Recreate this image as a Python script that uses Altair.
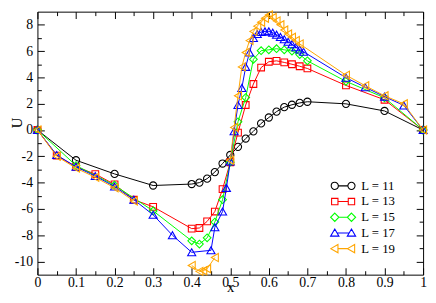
import altair as alt
import pandas as pd

# ---------------- data ----------------
labels = ["L = 11", "L = 13", "L = 15", "L = 17", "L = 19"]
colors = ["#000000", "#ff0000", "#00ff00", "#0000ff", "#ffa500"]
shapes = ["circle", "square", "diamond", "triangle-up", "triangle-left"]
marker_sizes = [54, 47, 62, 68, 68]

x11 = [0, 0.1, 0.2, 0.3, 0.4, 0.42, 0.44, 0.46, 0.48, 0.5, 0.52, 0.54, 0.56, 0.58,
       0.6, 0.62, 0.64, 0.66, 0.68, 0.7, 0.8, 0.9, 1.0]
u11 = [0, -2.3, -3.34, -4.22, -4.11, -4.0, -3.7, -3.2, -2.55, -1.9, -1.28, -0.65, -0.1,
       0.5, 0.95, 1.4, 1.74, 1.92, 2.06, 2.15, 1.99, 1.45, 0]
seg11 = [0] * 23

x13 = [0, 0.05, 0.1, 0.15, 0.2, 0.25, 0.3, 0.4, 0.42, 0.44, 0.46, 0.48, 0.5, 0.52, 0.54,
       0.56, 0.58, 0.6, 0.62, 0.64, 0.66, 0.68, 0.7, 0.8, 0.9, 1.0]
u13 = [0, -1.95, -2.8, -3.35, -4.14, -5.3, -5.84, -7.5, -7.45, -6.95, -6.2, -4.5, -2.45,
       -0.2, 1.9, 3.5, 4.75, 5.19, 5.26, 5.14, 5.0, 4.85, 4.68, 3.39, 2.3, 0]
seg13 = [0] * 26

x15 = [0, 0.1, 0.2, 0.3, 0.4, 0.42, 0.44, 0.46, 0.48, 0.5, 0.52, 0.54, 0.56, 0.58,
       0.6, 0.62, 0.64, 0.66, 0.68, 0.7, 0.8, 0.9, 1.0]
u15 = [0, -2.7, -4.2, -6.15, -8.43, -8.67, -8.2, -7.0, -5.3, -2.45, 0.62, 2.47, 5.38,
       6.03, 6.1, 6.18, 6.1, 6.0, 5.74, 5.26, 3.7, 2.45, 0]
seg15 = [0] * 23

x17 = [0, 0.05, 0.1, 0.15, 0.2, 0.25, 0.3, 0.35, 0.4, 0.45, 0.46, 0.48, 0.49, 0.5,
       0.51, 0.52, 0.53, 0.54, 0.55, 0.56, 0.57, 0.58, 0.59, 0.6, 0.61, 0.62, 0.63,
       0.64, 0.65, 0.66, 0.67, 0.68, 0.69, 0.8, 0.85, 0.9, 0.95, 1.0]
u17 = [0, -1.9, -2.8, -3.5, -4.3, -5.3, -6.45, -8.0, -9.3, -9.15, -7.4, -6.2, -4.4, -2.4,
       -0.1, 1.9, 3.2, 4.8, 5.9, 7.0, 7.3, 7.45, 7.5, 7.5, 7.4, 7.25, 7.08,
       6.9, 6.71, 6.52, 6.3, 6.12, 5.95, 3.98, 3.25, 2.54, 1.87, 0]
seg17 = [0] * 38

x19 = [0, 0.05, 0.1, 0.15, 0.2, 0.25,
       0.4, 0.42, 0.43, 0.44, 0.46,
       0.5, 0.51, 0.52, 0.53, 0.54, 0.55, 0.56, 0.57, 0.58, 0.59, 0.6, 0.61, 0.62,
       0.63, 0.64, 0.65, 0.66, 0.67, 0.68, 0.8, 0.85, 0.9, 0.95, 1.0]
u19 = [0, -2.0, -2.9, -3.6, -4.4, -5.4,
       -10.3, -10.75, -10.7, -10.55, -9.7,
       -2.3, 0.2, 2.6, 4.8, 5.9, 6.8, 7.5, 7.9, 8.2, 8.5, 8.75, 8.55, 8.3,
       8.0, 7.6, 7.3, 7.05, 6.8, 6.55, 4.17, 3.37, 2.6, 1.99, 0]
seg19 = [0] * 6 + [1] * 5 + [2] * 24

x_major = [0, 0.1, 0.2, 0.3, 0.4, 0.5, 0.6, 0.7, 0.8, 0.9, 1]
x_minor = [0.05, 0.15, 0.25, 0.35, 0.45, 0.55, 0.65, 0.75, 0.85, 0.95]
y_major = [-10, -8, -6, -4, -2, 0, 2, 4, 6, 8]
y_minor = [-9, -7, -5, -3, -1, 1, 3, 5, 7]
x_domain = [0, 1]
y_domain = [-11, 9]

series = [(labels[0], x11, u11, seg11), (labels[1], x13, u13, seg13),
          (labels[2], x15, u15, seg15), (labels[3], x17, u17, seg17),
          (labels[4], x19, u19, seg19)]
rows = []
for lab, xs, us, ss in series:
    for xv, uv, sv in zip(xs, us, ss):
        rows.append({"L": lab, "x": xv, "U": uv, "seg": sv})
df = pd.DataFrame(rows)

# ---------------- legend symbols (marker - line - marker) ----------------
CL, CR = -3.3, 0.1


def n(v):
    return f"{v:.3f}"


def marker(kind, cx):
    if kind == "circle":
        r = 0.73
        return (f"M{n(cx - r)},0A{r},{r} 0 1,0 {n(cx + r)},0"
                f"A{r},{r} 0 1,0 {n(cx - r)},0Z"), r
    if kind == "square":
        h = 0.65
        return (f"M{n(cx - h)},{-h}L{n(cx + h)},{-h}L{n(cx + h)},{h}"
                f"L{n(cx - h)},{h}Z"), h
    if kind == "diamond":
        d = 0.85
        return f"M{n(cx)},{-d}L{n(cx + d)},0L{n(cx)},{d}L{n(cx - d)},0Z", d
    if kind == "triangle-up":
        w = 0.85
        return f"M{n(cx)},-0.8L{n(cx + w)},0.65L{n(cx - w)},0.65Z", w * 0.6
    # triangle-left
    return f"M{n(cx - 0.8)},0L{n(cx + 0.65)},-0.85L{n(cx + 0.65)},0.85Z", 0.65


legend_paths = []
for kind in shapes:
    lp, lr = marker(kind, CL)
    rp, rr = marker(kind, CR)
    line = f"M{n(CL + lr)},0L{n(CR - rr)},0"
    legend_paths.append(lp + line + rp)

# ---------------- chart ----------------
FONT = "'Liberation Serif', 'Times New Roman', Times, serif"
xscale = alt.Scale(domain=x_domain, nice=False, zero=False)
yscale = alt.Scale(domain=y_domain, nice=False, zero=False)

base = alt.Chart(df)

label_x_axis = alt.Axis(
    orient="bottom", values=x_major, ticks=False, tickSize=0, domain=False, grid=False,
    labelExpr="'' + datum.value", labelFont=FONT, labelFontSize=14, labelColor="black",
    labelBaseline="alphabetic", labelPadding=12, labelFlush=False, labelOverlap=False,
    title="x", titleFont=FONT, titleFontSize=15, titleFontWeight="normal",
    titleColor="black", titleBaseline="alphabetic", titleY=17.5)
label_y_axis = alt.Axis(
    orient="left", values=y_major, ticks=False, tickSize=0, domain=False, grid=False,
    labelExpr="'' + datum.value", labelFont=FONT, labelFontSize=14, labelColor="black",
    labelPadding=5, labelFlush=False, labelOverlap=False,
    title="U", titleFont=FONT, titleFontSize=15, titleFontWeight="normal",
    titleColor="black", titleBaseline="alphabetic", titleX=-16, titleY=113)

layers = []
for i, (lab, xs, us, ss) in enumerate(series):
    sub = base.transform_filter(alt.datum.L == lab)
    if i == 0:
        xe = alt.X("x:Q", scale=xscale, axis=label_x_axis)
        ye = alt.Y("U:Q", scale=yscale, axis=label_y_axis)
    else:
        xe = alt.X("x:Q", scale=xscale, axis=None)
        ye = alt.Y("U:Q", scale=yscale, axis=None)
    layers.append(sub.mark_line(color=colors[i], strokeWidth=1).encode(
        x=xe, y=ye, detail="seg:N"))
    layers.append(sub.mark_point(shape=shapes[i], size=marker_sizes[i], color=colors[i],
                                 filled=False, opacity=1, strokeWidth=1.1).encode(
        x=alt.X("x:Q", scale=xscale, axis=None),
        y=alt.Y("U:Q", scale=yscale, axis=None)))


def tick_layer(xvals, yvals, size, xorient, yorient):
    def ax(orient, vals):
        return alt.Axis(orient=orient, values=vals, offset=-size, tickSize=size,
                        ticks=True, labels=False, domain=False, grid=False, title=None,
                        tickColor="black", tickWidth=1)
    return base.mark_point(opacity=0).encode(
        x=alt.X("x:Q", scale=xscale, axis=ax(xorient, xvals)),
        y=alt.Y("U:Q", scale=yscale, axis=ax(yorient, yvals)))


layers.append(tick_layer(x_major, y_major, 7, "bottom", "left"))
layers.append(tick_layer(x_minor, y_minor, 4, "bottom", "left"))
layers.append(tick_layer(x_major, y_major, 7, "top", "right"))
layers.append(tick_layer(x_minor, y_minor, 4, "top", "right"))

legend_kw = dict(orient="none", legendX=313, legendY=171, title=None, padding=0,
                 symbolSize=100, symbolStrokeWidth=1.1, symbolOpacity=1,
                 labelFont=FONT, labelFontSize=13, labelColor="black", labelOffset=4,
                 rowPadding=2)
legend_layer = base.mark_point(opacity=0, filled=False).encode(
    x=alt.X("x:Q", scale=xscale, axis=None),
    y=alt.Y("U:Q", scale=yscale, axis=None),
    color=alt.Color("L:N", scale=alt.Scale(domain=labels, range=colors),
                    legend=alt.Legend(**legend_kw)),
    shape=alt.Shape("L:N", scale=alt.Scale(domain=labels, range=legend_paths),
                    legend=alt.Legend(**legend_kw)),
)
layers.append(legend_layer)

chart = alt.layer(*layers).resolve_axis(
    x="independent", y="independent"
).properties(
    width=393, height=268,
    autosize=alt.AutoSizeParams(type="none"),
    padding={"left": 30, "top": 1, "right": 5, "bottom": 18},
    background="white",
).configure(font=FONT).configure_view(stroke="black", strokeWidth=1)

chart.save("out.html", embed_options={"renderer": "svg", "actions": False})
